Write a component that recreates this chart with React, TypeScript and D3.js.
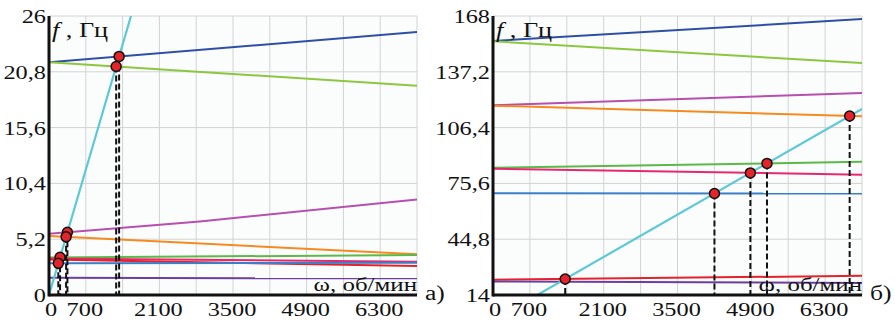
import React from 'react';
import * as d3 from 'd3';

type Pt = [number, number];

const omegaGrid: number[] = [0, 700, 1400, 2100, 2800, 3500, 4200, 4900, 5600, 6300, 7000];
const omegaLabels: number[] = [0, 700, 2100, 3500, 4900, 6300];
const leftYTicks: number[] = [0, 5.2, 10.4, 15.6, 20.8, 26];
const rightYTicks: number[] = [14, 44.8, 75.6, 106.4, 137.2, 168];

// cyan: rotation frequency line (same in both panels)
const cyanLine: Pt[] = [[0, 0], [7000, 116.7]];

// panel а)
const aDarkBlue: Pt[] = [[0, 21.7], [7000, 24.5]];
const aLightGreen: Pt[] = [[0, 21.7], [7000, 19.5]];
const aMagenta: Pt[] = [[0, 5.7], [2870, 6.85], [7000, 8.9]];
const aOrange: Pt[] = [[0, 5.5], [7000, 3.8]];
const aGreen: Pt[] = [[0, 3.5], [7000, 3.72]];
const aPink: Pt[] = [[0, 3.4], [7000, 3.1]];
const aRed: Pt[] = [[0, 3.3], [7000, 2.7]];
const aBlue: Pt[] = [[0, 2.95], [7000, 3.0]];
const aPurple: Pt[] = [[0, 1.6], [7000, 1.55]];

// panel б)
const bDarkBlue: Pt[] = [[0, 154.2], [7000, 166.3]];
const bLightGreen: Pt[] = [[0, 154.0], [7000, 142.0]];
const bMagenta: Pt[] = [[0, 118.7], [7000, 125.5]];
const bOrange: Pt[] = [[0, 118.5], [7000, 112.6]];
const bGreen: Pt[] = [[0, 84.2], [7000, 87.5]];
const bPink: Pt[] = [[0, 83.7], [7000, 80.4]];
const bBlue: Pt[] = [[0, 70.1], [7000, 70.0]];
const bRed: Pt[] = [[0, 22.4], [7000, 24.6]];
const bPurple: Pt[] = [[0, 21.5], [7000, 20.6]];

const COLORS = {
  darkBlue: '#2f4fa6',
  lightGreen: '#8dc63f',
  magenta: '#b74fae',
  orange: '#f58a1f',
  green: '#5cb848',
  pink: '#e6286f',
  red: '#e3222a',
  blue: '#3a7fc8',
  purple: '#6c3f9e',
  cyan: '#5ec8d6',
};

interface Series { data: Pt[]; color: string; marked: boolean; }

const seriesA: Series[] = [
  { data: aDarkBlue, color: COLORS.darkBlue, marked: true },
  { data: aLightGreen, color: COLORS.lightGreen, marked: true },
  { data: aMagenta, color: COLORS.magenta, marked: true },
  { data: aOrange, color: COLORS.orange, marked: true },
  { data: aGreen, color: COLORS.green, marked: true },
  { data: aPink, color: COLORS.pink, marked: false },
  { data: aRed, color: COLORS.red, marked: false },
  { data: aBlue, color: COLORS.blue, marked: true },
  { data: aPurple, color: COLORS.purple, marked: false },
];

const seriesB: Series[] = [
  { data: bDarkBlue, color: COLORS.darkBlue, marked: false },
  { data: bLightGreen, color: COLORS.lightGreen, marked: false },
  { data: bMagenta, color: COLORS.magenta, marked: false },
  { data: bOrange, color: COLORS.orange, marked: true },
  { data: bGreen, color: COLORS.green, marked: true },
  { data: bPink, color: COLORS.pink, marked: true },
  { data: bBlue, color: COLORS.blue, marked: true },
  { data: bRed, color: COLORS.red, marked: true },
  { data: bPurple, color: COLORS.purple, marked: false },
];

const interp = (d: Pt[]) => d3.scaleLinear().domain(d.map(p => p[0])).range(d.map(p => p[1]));

function intersect(a: Pt[], b: Pt[]): Pt | null {
  const fa = interp(a), fb = interp(b);
  const n = 700;
  let prevW = 0, prevD = fa(0) - fb(0);
  for (let i = 1; i <= n; i++) {
    const w = (7000 * i) / n;
    const dd = fa(w) - fb(w);
    if (prevD === 0) return [prevW, fa(prevW)];
    if (Math.sign(dd) !== Math.sign(prevD)) {
      const t = prevD / (prevD - dd);
      const wx = prevW + t * (w - prevW);
      return [wx, fa(wx)];
    }
    prevW = w; prevD = dd;
  }
  return null;
}

const fmt = (v: number) => String(v).replace('.', ',');
const FONT = 'Liberation Serif, Times New Roman, serif';
const SX = 1.28;

function T(props: { x: number; y: number; anchor?: string; size?: number; children: React.ReactNode }) {
  const { x, y, anchor = 'start', size = 19, children } = props;
  return (
    <text transform={`translate(${x},${y}) scale(${SX},1)`} textAnchor={anchor} fontFamily={FONT} fontSize={size} fill="#111">
      {children}
    </text>
  );
}

function Panel(props: { id: string; x0: number; x1: number; yDomain: [number, number]; yTicks: number[]; series: Series[]; tag: string }) {
  const { id, x0, x1, yDomain, yTicks, series, tag } = props;
  const top = 16, bottom = 295;
  const x = d3.scaleLinear().domain([0, 7000]).range([x0, x1]);
  const y = d3.scaleLinear().domain(yDomain).range([bottom, top]);
  const line = d3.line<Pt>().x(p => x(p[0])).y(p => y(p[1]));
  const marks = series.filter(s => s.marked).map(s => intersect(s.data, cyanLine)).filter(Boolean) as Pt[];
  return (
    <g>
      <defs>
        <clipPath id={id}>
          <rect x={x0} y={top} width={x1 - x0} height={bottom - top} />
        </clipPath>
      </defs>
      <rect x={x0} y={top} width={x1 - x0} height={bottom - top} fill="#fbfdfd" />
      {omegaGrid.map(w => (
        <line key={'gx' + w} x1={x(w)} x2={x(w)} y1={top} y2={bottom} stroke="#d2d2d2" strokeWidth={1} />
      ))}
      {yTicks.map(v => (
        <line key={'gy' + v} x1={x0} x2={x1} y1={y(v)} y2={y(v)} stroke="#d2d2d2" strokeWidth={1} />
      ))}
      <g clipPath={`url(#${id})`}>
        {series.map((s, i) => (
          <path key={i} d={line(s.data) || ''} fill="none" stroke={s.color} strokeWidth={2} />
        ))}
        <path d={line(cyanLine) || ''} fill="none" stroke={COLORS.cyan} strokeWidth={2.2} />
      </g>
      {marks.map((m, i) => (
        <line key={'d' + i} x1={x(m[0])} x2={x(m[0])} y1={y(m[1])} y2={bottom} stroke="#111" strokeWidth={2} strokeDasharray="6,3" />
      ))}
      <line x1={x0} x2={x0} y1={top} y2={bottom + 1.5} stroke="#111" strokeWidth={3} />
      <line x1={x0} x2={x1} y1={bottom} y2={bottom} stroke="#111" strokeWidth={3} />
      {marks.map((m, i) => (
        <circle key={'m' + i} cx={x(m[0])} cy={y(m[1])} r={5} fill="#e5232a" stroke="#111" strokeWidth={1.5} />
      ))}
      {yTicks.map(v => (
        <T key={'ly' + v} x={x0 - 3} y={y(v) + 7} anchor="end">{fmt(v)}</T>
      ))}
      {omegaLabels.map(w => (
        <T key={'lx' + w} x={x(w) + (w === 0 ? 2 : -1)} y={316} anchor="middle">{fmt(w)}</T>
      ))}
      <text transform={`translate(${x0 + 3},37) scale(${SX},1)`} fontFamily={FONT} fontSize={20.5} fill="#111">
        <tspan fontStyle="italic">f</tspan> , Гц
      </text>
      <T x={x1} y={291} anchor="end" size={19.5}>ω, об/мин</T>
      <T x={x1 + 8} y={300} size={20}>{tag}</T>
    </g>
  );
}

export default function App() {
  return (
    <svg width={895} height={322} style={{ position: 'absolute', left: 0, top: 0, background: '#fff' }}>
      <rect x={0} y={0} width={895} height={322} fill="#fff" />
      <Panel id="clipA" x0={49} x1={417} yDomain={[0, 26]} yTicks={leftYTicks} series={seriesA} tag="а)" />
      <Panel id="clipB" x0={493} x1={862} yDomain={[14, 168]} yTicks={rightYTicks} series={seriesB} tag="б)" />
    </svg>
  );
}
